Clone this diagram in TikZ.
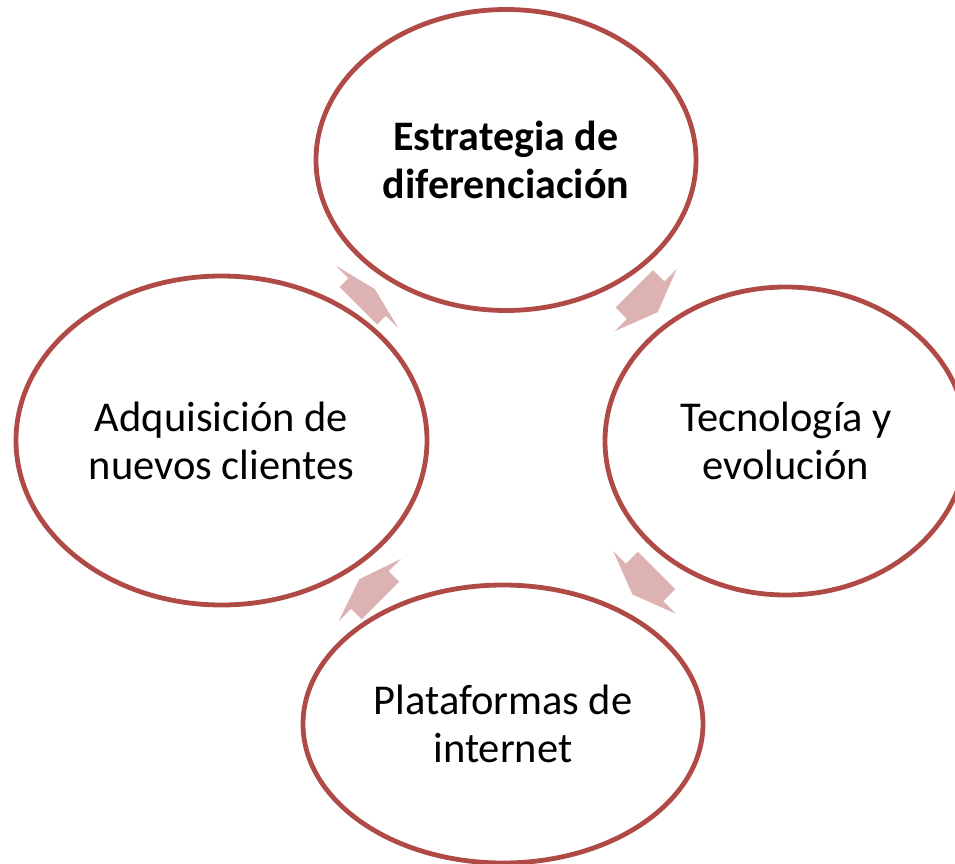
\documentclass[tikz,border=0pt]{standalone}
\usepackage{fontspec}
\setmainfont{Carlito}
\usetikzlibrary{shapes.geometric,calc}
\definecolor{ringred}{RGB}{176,74,70}
\definecolor{flowpink}{RGB}{221,178,178}

\begin{document}
\begin{tikzpicture}[x=1pt, y=-1pt,
    stage/.style={ellipse, draw=ringred, line width=4.8pt, fill=white, inner sep=0pt, align=center,
      font=\fontsize{42.5}{48}\selectfont},
    keystage/.style={stage, font=\fontsize{42}{48}\selectfont\bfseries},
    flow/.style={fill=flowpink, draw=none}
  ]
  \path[use as bounding box, fill=white] (0,0) rectangle (955,864);
  \node[keystage, minimum width=380pt, minimum height=301pt] (strategy) at (506,160) {Estrategia de\\diferenciación};
  \node[stage, minimum width=362pt, minimum height=308pt] (technology) at (786,441) {Tecnología y\\evolución};
  \node[stage, minimum width=400pt, minimum height=278pt] (platforms) at (503,724) {Plataformas de\\internet};
  \node[stage, minimum width=411pt, minimum height=329pt] (clients) at (221.5,440.5) {Adquisición de\\nuevos clientes};
  \foreach \from/\to/\pos/\dir/\s/\h in {strategy/technology/0.5/-45/16/17, technology/platforms/0.5/-135/17/17,
      platforms/clients/0.473/135/15/15, clients/strategy/0.51/45/12.5/11}
    \fill[flow, shift={($(\from)!\pos!(\to)$)}, rotate=\dir]
      ({-(\s+\h)/2},-26.5) -- ++(\s,0) -- ++(0,-17.5) -- ({(\s+\h)/2},0)
      -- ({-(\s+\h)/2+\s},44) -- ++(0,-17.5) -- ({-(\s+\h)/2},26.5) -- cycle;
\end{tikzpicture}
\end{document}
